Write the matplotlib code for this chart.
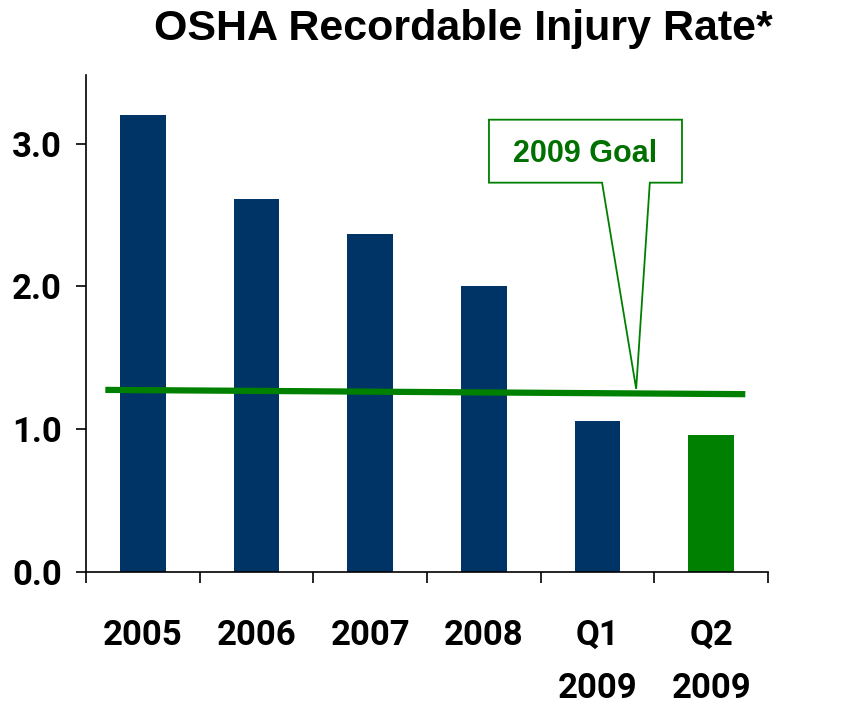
import numpy as np
import matplotlib.pyplot as plt
from matplotlib.patches import Polygon

# chart data
categories = ['2005', '2006', '2007', '2008', 'Q1\n2009', 'Q2\n2009']
rates = [3.20, 2.61, 2.37, 2.00, 1.06, 0.96]
bar_colors = ['#003366', '#003366', '#003366', '#003366', '#003366', '#008000']
goal_x = [-0.33, 5.30]
goal_y = [1.275, 1.245]
yticks = [0.0, 1.0, 2.0, 3.0]

narrow = ['Roboto', 'Liberation Sans', 'DejaVu Sans']
plt.rcParams['font.family'] = ['Liberation Sans', 'DejaVu Sans']

fig = plt.figure(figsize=(8.48, 7.1), dpi=100)
ax = fig.add_axes([0.1014, 0.1944, 0.8043, 0.70])

x = np.arange(len(categories))
ax.bar(x, rates, width=0.4, color=bar_colors, zorder=2)
ax.plot(goal_x, goal_y, color='#008000', lw=4.5, solid_capstyle='butt', zorder=3)

ax.set_xlim(-0.5, len(categories) - 0.5)
ax.set_ylim(0, 3.48)

# callout box with pointer down to the goal line
bx0, bx1, by0, by1 = 3.045, 4.743, 2.726, 3.167
pts = [(bx0, by1), (bx1, by1), (bx1, by0), (4.46, by0), (4.34, 1.282),
       (4.04, by0), (bx0, by0)]
ax.add_patch(Polygon(pts, closed=True, facecolor='white', edgecolor='#008000',
                     lw=1.3, zorder=4, clip_on=False))
ax.text((bx0 + bx1) / 2, (by0 + by1) / 2 - 0.02, '2009 Goal', color='#007000',
        fontsize=22, fontweight='bold', ha='center', va='center', zorder=5)

# spines
for s in ['top', 'right']:
    ax.spines[s].set_visible(False)
ax.spines['left'].set_linewidth(1.2)
ax.spines['bottom'].set_linewidth(1.2)

# y ticks
ax.set_yticks(yticks)
ax.set_yticklabels([f'{v:.1f}' for v in yticks], family=narrow,
                   fontsize=25, fontweight='bold')
ax.tick_params(axis='y', length=7.5, width=1.2, pad=10)

# x ticks at boundaries, labels at centres
ax.set_xticks(np.arange(-0.5, len(categories), 1.0))
ax.set_xticklabels([])
ax.tick_params(axis='x', which='major', length=8, width=1.2, direction='out')
ax.set_xticks(x, minor=True)
ax.set_xticklabels(categories, minor=True, family=narrow, fontsize=25,
                   fontweight='bold', linespacing=1.78, va='top')
ax.tick_params(axis='x', which='minor', length=0, pad=34)

fig.text(463 / 848, 1 - 29 / 710, 'OSHA Recordable Injury Rate*',
         ha='center', va='center', fontsize=31, fontweight='bold')

fig.savefig('out.png', dpi=100)
